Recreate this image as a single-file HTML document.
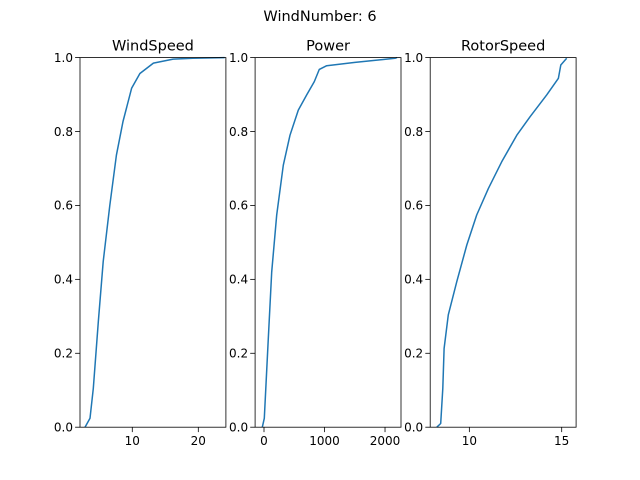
<!DOCTYPE html>
<html><head><meta charset="utf-8"><style>
body{margin:0;background:#fff}
svg{display:block;font-family:"DejaVu Sans","Liberation Sans",sans-serif}
</style></head><body>
<svg id="c" width="640" height="480">
<rect width="640" height="480" fill="#fff"/>
<text x="320" y="21" text-anchor="middle" font-size="14.5">WindNumber: 6</text>
</svg>
<script>
const windProbs = [0,0.024,0.105,0.285,0.448,0.60,0.736,0.827,0.917,0.957,0.985,0.996,0.998,1];
const windSpeed = [2.83,3.59,4.09,4.85,5.6,6.6,7.6,8.6,9.9,11.15,13.2,16.2,19.2,24];
const powerProbs = [0,0.024,0.24,0.42,0.574,0.709,0.79,0.858,0.899,0.935,0.968,0.978,0.987,0.998,1];
const power = [-28,5,71,127,210,319,430,567,706,832,914,1036,1504,2165,2200];
const rotorProbs = [0,0.01,0.105,0.213,0.304,0.394,0.493,0.574,0.646,0.718,0.79,0.84,0.899,0.944,0.98,0.998];
const rotorSpeed = [8.24,8.45,8.56,8.63,8.86,9.32,9.86,10.4,11.03,11.75,12.57,13.29,14.19,14.82,14.95,15.27];
const yTicks = [0,0.2,0.4,0.6,0.8,1.0];
const titles = ["WindSpeed","Power","RotorSpeed"];
const xTicksList = [[10,20],[0,1000,2000],[10,15]];
const xDomains = [[2.08,24.18],[-147,2264],[7.88,15.78]];
const ys = [windProbs,powerProbs,rotorProbs];
const xs = [windSpeed,power,rotorSpeed];
const NS="http://www.w3.org/2000/svg";
const svg=document.getElementById('c');
const axTop=57.6,axBot=427.2,w=145.9,lefts=[80,255.1,430.2];
function mk(t,a,p){const e=document.createElementNS(NS,t);for(const k in a)e.setAttribute(k,a[k]);(p||svg).appendChild(e);return e;}
for(let i=0;i<3;i++){
  const L=lefts[i],d=xDomains[i];
  const sx=v=>L+(v-d[0])/(d[1]-d[0])*w;
  const sy=p=>axBot-p*(axBot-axTop);
  const g=mk('g',{});
  
  
  let pts=xs[i].map((v,j)=>sx(v).toFixed(1)+','+sy(ys[i][j]).toFixed(1)).join(' ');
  const line=mk('polyline',{points:pts,fill:'none',stroke:'#1f77b4','stroke-width':1.5,'stroke-linejoin':'round'},g);
  
  
  const fr=mk('rect',{x:L,y:axTop,width:w,height:axBot-axTop,fill:'none',stroke:'#000','stroke-width':0.8},g);
  
  
  const t=mk('text',{x:L+w/2,y:axTop-7,'text-anchor':'middle','font-size':14.5},g);
  t.textContent=titles[i];
  
  
  xTicksList[i].forEach(v=>{
    const x=sx(v);
    mk('line',{x1:x,x2:x,y1:axBot,y2:axBot+4.9,stroke:'#000','stroke-width':0.8},g);
    const tx=mk('text',{x:x,y:axBot+18,'text-anchor':'middle','font-size':12},g);
    tx.textContent=v;
    
    
  });
  yTicks.forEach(v=>{
    const y=sy(v);
    mk('line',{x1:L,x2:L-4.9,y1:y,y2:y,stroke:'#000','stroke-width':0.8},g);
    const ty=mk('text',{x:L-7,y:y+4.3,'text-anchor':'end','font-size':12},g);
    ty.textContent=v.toFixed(1);
    
    
  });
}
</script>
</body></html>
